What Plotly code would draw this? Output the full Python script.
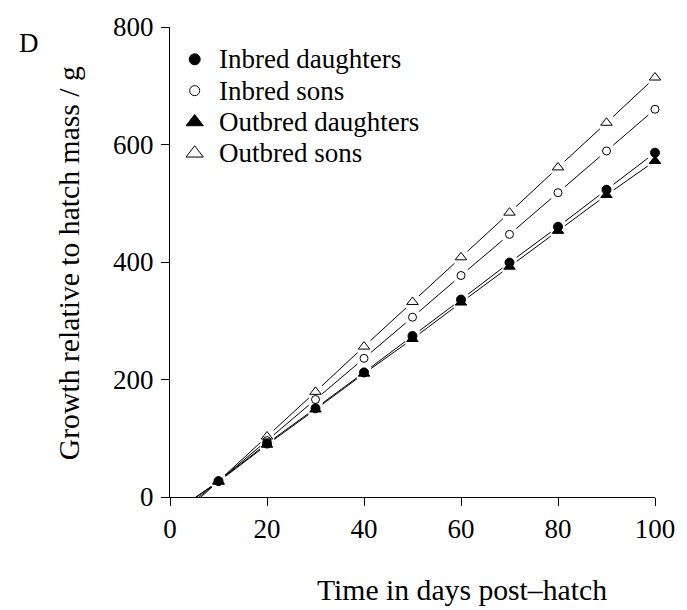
import plotly.graph_objects as go

# Days post-hatch at which birds were weighed
days = [10, 20, 30, 40, 50, 60, 70, 80, 90, 100]

# Mean growth relative to hatch mass (g)
inbred_daughters = [27, 91, 151, 212, 274, 336, 399, 460, 523, 586]
inbred_sons = [27, 96, 166, 236, 306, 377, 447, 518, 589, 660]
outbred_daughters = [26, 89, 149, 210, 269, 331, 392, 453, 514, 572]
outbred_sons = [27, 103, 179, 256, 332, 408, 484, 561, 637, 714]

# Day at which each growth line leaves zero (line only, no symbol)
zero_day = [5.5, 6.0, 5.3, 6.4]

names = ["Inbred daughters", "Inbred sons", "Outbred daughters", "Outbred sons"]
series = [inbred_daughters, inbred_sons, outbred_daughters, outbred_sons]
symbols = ["circle", "circle-open", "triangle-up", "triangle-up-open"]
sizes = [9, 8, 10, 10]
key_sizes = [11, 10, 15, 15]

FONT = "Liberation Serif"
X_RANGE = (0, 100)
Y_RANGE = (0, 800)
W, H = 687, 610
M = dict(l=170, r=26, t=17, b=113)
PW = W - M["l"] - M["r"]
PH = H - M["t"] - M["b"]
GAP = 9  # px left blank around each symbol, as in an R type="b" plot


def to_px(x, y):
    return (x - X_RANGE[0]) / (X_RANGE[1] - X_RANGE[0]) * PW, \
           (y - Y_RANGE[0]) / (Y_RANGE[1] - Y_RANGE[0]) * PH


def to_data(px, py):
    return X_RANGE[0] + px / PW * (X_RANGE[1] - X_RANGE[0]), \
           Y_RANGE[0] + py / PH * (Y_RANGE[1] - Y_RANGE[0])


def broken_line(xs, ys, marked):
    """Segments between consecutive points, trimmed where a symbol sits."""
    lx, ly = [], []
    for i in range(len(xs) - 1):
        ax, ay = to_px(xs[i], ys[i])
        bx, by = to_px(xs[i + 1], ys[i + 1])
        dx, dy = bx - ax, by - ay
        L = (dx ** 2 + dy ** 2) ** 0.5
        ux, uy = dx / L, dy / L
        sa = GAP if marked[i] else 0.0
        sb = GAP if marked[i + 1] else 0.0
        if L <= sa + sb:
            continue
        p0 = to_data(ax + ux * sa, ay + uy * sa)
        p1 = to_data(bx - ux * sb, by - uy * sb)
        lx += [p0[0], p1[0], None]
        ly += [p0[1], p1[1], None]
    return lx, ly


fig = go.Figure()

for vals, z in zip(series, zero_day):
    xs = [z] + days
    ys = [0] + vals
    lx, ly = broken_line(xs, ys, [False] + [True] * len(days))
    fig.add_trace(go.Scatter(
        x=lx, y=ly, mode="lines", showlegend=False, hoverinfo="skip",
        line=dict(color="black", width=1), connectgaps=False,
    ))

for name, vals, sym, sz in zip(names, series, symbols, sizes):
    fig.add_trace(go.Scatter(
        x=days, y=vals, mode="markers", name=name, showlegend=False,
        marker=dict(symbol=sym, size=sz, color="black",
                    line=dict(color="black", width=1)),
        cliponaxis=False,
    ))

# Key in the upper-left corner, laid out in pixel units on an overlay axis
KEY_X, KEY_TEXT_X = 25, 48
KEY_ROWS = [PH - 33, PH - 65, PH - 97, PH - 129]
annotations = []
for name, sym, sz, ky in zip(names, symbols, key_sizes, KEY_ROWS):
    fig.add_trace(go.Scatter(
        x=[KEY_X], y=[ky], xaxis="x2", yaxis="y2", mode="markers",
        showlegend=False, hoverinfo="skip",
        marker=dict(symbol=sym, size=sz, color="black",
                    line=dict(color="black", width=1)),
    ))
    annotations.append(dict(
        text=name, xref="x2", yref="y2", x=KEY_TEXT_X, y=ky,
        xanchor="left", yanchor="middle", showarrow=False,
        font=dict(family=FONT, size=27, color="black"),
    ))

axis_common = dict(
    showline=True, linecolor="black", linewidth=1,
    ticks="outside", ticklen=8, tickcolor="black", tickwidth=1,
    showgrid=False, zeroline=False, mirror=False,
    tickfont=dict(family=FONT, size=27, color="black"),
)

annotations += [
    dict(text="Growth relative to hatch mass / g", textangle=-90,
         xref="paper", yref="paper", x=(68 - M["l"]) / PW,
         y=(H - M["b"] - 258) / PH,
         xanchor="center", yanchor="middle", showarrow=False,
         font=dict(family=FONT, size=29.7, color="black")),
    dict(text="Time in days post\u2013hatch",
         xref="paper", yref="paper", x=(466 - M["l"]) / PW,
         y=-(592 - (H - M["b"])) / PH,
         xanchor="center", yanchor="middle", showarrow=False,
         font=dict(family=FONT, size=29.7, color="black")),
    dict(text="D", xref="paper", yref="paper",
         x=(27 - M["l"]) / PW, y=1 - (33 - M["t"]) / PH,
         xanchor="center", yanchor="middle", showarrow=False,
         font=dict(family=FONT, size=27, color="black")),
]

fig.update_layout(
    width=W, height=H, margin=M,
    paper_bgcolor="white", plot_bgcolor="white",
    font=dict(family=FONT, size=27, color="black"),
    showlegend=False,
    xaxis=dict(range=list(X_RANGE), tickvals=[0, 20, 40, 60, 80, 100], **axis_common),
    yaxis=dict(range=list(Y_RANGE), tickvals=[0, 200, 400, 600, 800],
               ticklabelstandoff=2, **axis_common),
    xaxis2=dict(range=[0, PW], overlaying="x", anchor="y2", visible=False, fixedrange=True),
    yaxis2=dict(range=[0, PH], overlaying="y", anchor="x2", visible=False, fixedrange=True),
    annotations=annotations,
)

fig.write_html("out.html")
